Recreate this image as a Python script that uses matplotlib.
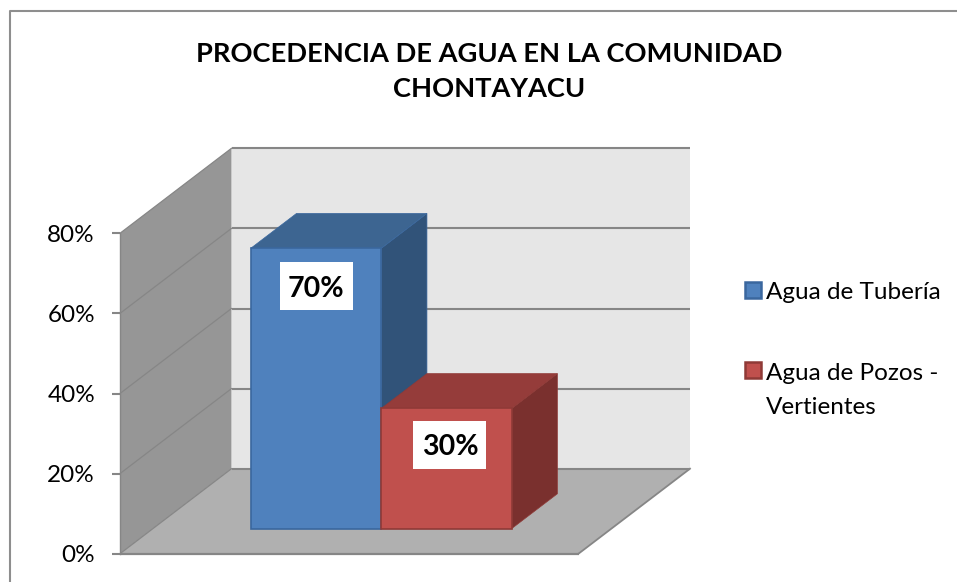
import matplotlib
matplotlib.use("Agg")
import matplotlib.pyplot as plt
from matplotlib.patches import Polygon, Patch, Rectangle
from matplotlib.lines import Line2D
from matplotlib.transforms import Affine2D

plt.rcParams['font.family'] = ['Lato', 'DejaVu Sans']

title = "PROCEDENCIA DE AGUA EN LA COMUNIDAD\nCHONTAYACU"
series_names = ["Agua de Tubería", "Agua de Pozos -\nVertientes"]
series_values = [70, 30]
value_labels = ["70%", "30%"]
y_ticks = [0, 20, 40, 60, 80]
y_tick_labels = ["0%", "20%", "40%", "60%", "80%"]

W, H = 957, 582
front_colors = ["#4f81bd", "#c0504d"]
top_colors = ["#3d6591", "#953c3a"]
side_colors = ["#315379", "#7a302e"]
edge_colors = ["#3a679e", "#8f3a37"]
GRID = "#868686"

fig = plt.figure(figsize=(W / 100, H / 100), dpi=100, facecolor="white")
L, R, T, B = 120, 578.5, 233.3, 553.7
ax = fig.add_axes([L / W, 1 - B / H, (R - L) / W, (B - T) / H])
ax.set_xlim(0, 1)
ax.set_ylim(0, 80)
ax.patch.set_visible(False)
for s in ax.spines.values():
    s.set_visible(False)

# oblique depth projection in data units
DX = 111.5 / (R - L)
DY = 85 / ((B - T) / 80)


def proj(x, v, d):
    return (x + DX * d, v + DY * d)


def face(points, fc, ec=None, lw=0.0, z=1):
    ax.add_patch(Polygon([proj(*p) for p in points], closed=True, facecolor=fc,
                         edgecolor=ec if ec else fc, linewidth=lw, zorder=z,
                         clip_on=False))


# walls
face([(0, 0, 1), (1, 0, 1), (1, 80, 1), (0, 80, 1)], "#e6e6e6", z=1)
face([(0, 0, 0), (0, 0, 1), (0, 80, 1), (0, 80, 0)], "#969696", z=2)
face([(0, 0, 0), (1, 0, 0), (1, 0, 1), (0, 0, 1)], "#b0b0b0", z=2)

# grid lines on back and side wall
for v in y_ticks:
    xs, ys = zip(*[proj(0, v, 1), proj(1, v, 1)])
    ax.plot(xs, ys, color=GRID, lw=1.5, zorder=3, clip_on=False, solid_capstyle="butt")
    xs, ys = zip(*[proj(0, v, 0), proj(0, v, 1)])
    ax.plot(xs, ys, color=GRID, lw=0.9, zorder=3, clip_on=False)
xs, ys = zip(*[proj(1, 0, 0), proj(1, 0, 1)])
ax.plot(xs, ys, color=GRID, lw=1.3, zorder=3, clip_on=False)
ax.plot([0, 0], [0, 80], color=GRID, lw=1.0, zorder=3, clip_on=False)
ax.plot([0, 1], [0, 0], color=GRID, lw=1.6, zorder=3, clip_on=False, solid_capstyle="butt")

# bars
bar_w = 0.2845
x_start = 0.2135
d0, d1 = 0.295, 0.705
label_shift_px = [(0, -38), (3.5, -36.5)]
BOX_W_PX, BOX_H_PX = 73, 48
for i, (val, lab) in enumerate(zip(series_values, value_labels)):
    x0 = x_start + i * bar_w
    x1 = x0 + bar_w
    z = 5 + i
    face([(x1, 0, d0), (x1, 0, d1), (x1, val, d1), (x1, val, d0)], side_colors[i],
         edge_colors[i], 0.5, z)
    face([(x0, val, d0), (x1, val, d0), (x1, val, d1), (x0, val, d1)], top_colors[i],
         edge_colors[i], 0.5, z)
    face([(x0, 0, d0), (x1, 0, d0), (x1, val, d0), (x0, val, d0)], front_colors[i],
         edge_colors[i], 1.2, z)
    cx, cy = proj((x0 + x1) / 2, val, d0)
    px, py = ax.transData.transform((cx, cy))
    sx, sy = label_shift_px[i]
    ax.add_patch(Rectangle((sx - BOX_W_PX / 2, sy - BOX_H_PX / 2), BOX_W_PX, BOX_H_PX,
                           transform=Affine2D().translate(px, py), facecolor="white",
                           edgecolor="none", zorder=19, clip_on=False))
    ax.annotate(lab, xy=(cx, cy), xytext=(sx * 0.72, (sy - 2.5) * 0.72), textcoords="offset points",
                ha="center", va="center", fontsize=20.5, fontweight="bold", color="black",
                zorder=20, annotation_clip=False)

# axis ticks and labels
ax.set_xticks([])
ax.set_yticks(y_ticks)
ax.set_yticklabels(y_tick_labels)
ax.tick_params(axis="y", length=5.5, width=1.5, color=GRID, pad=12.5, labelsize=17.5,
               labelcolor="black")

# title
fig.text(489.5 / W, 1 - 71.5 / H, title, ha="center", va="center", fontsize=19.6,
         fontweight="bold", color="black", linespacing=1.52)

# legend
handles = [Patch(facecolor=front_colors[i], edgecolor=edge_colors[i], linewidth=1.8)
           for i in range(2)]
leg = fig.legend(handles, series_names, loc="upper left",
                 bbox_to_anchor=(735 / W, 1 - 272 / H), frameon=False, fontsize=17.5,
                 handlelength=0.665, handleheight=0.665, handletextpad=0.2, labelspacing=2.46,
                 borderpad=0.4, borderaxespad=0, labelcolor="black")
for t in leg.get_texts():
    t.set_linespacing(1.79)
h2 = leg.legend_handles[1]
h2.set_y(h2.get_y() + 14.5)

# chart frame
fig.add_artist(Line2D([9.5 / W, 9.5 / W, 1], [0, 1 - 11 / H, 1 - 11 / H],
                      transform=fig.transFigure, color="#8e8e8e", lw=1.5))

fig.savefig("out.png", dpi=100)
